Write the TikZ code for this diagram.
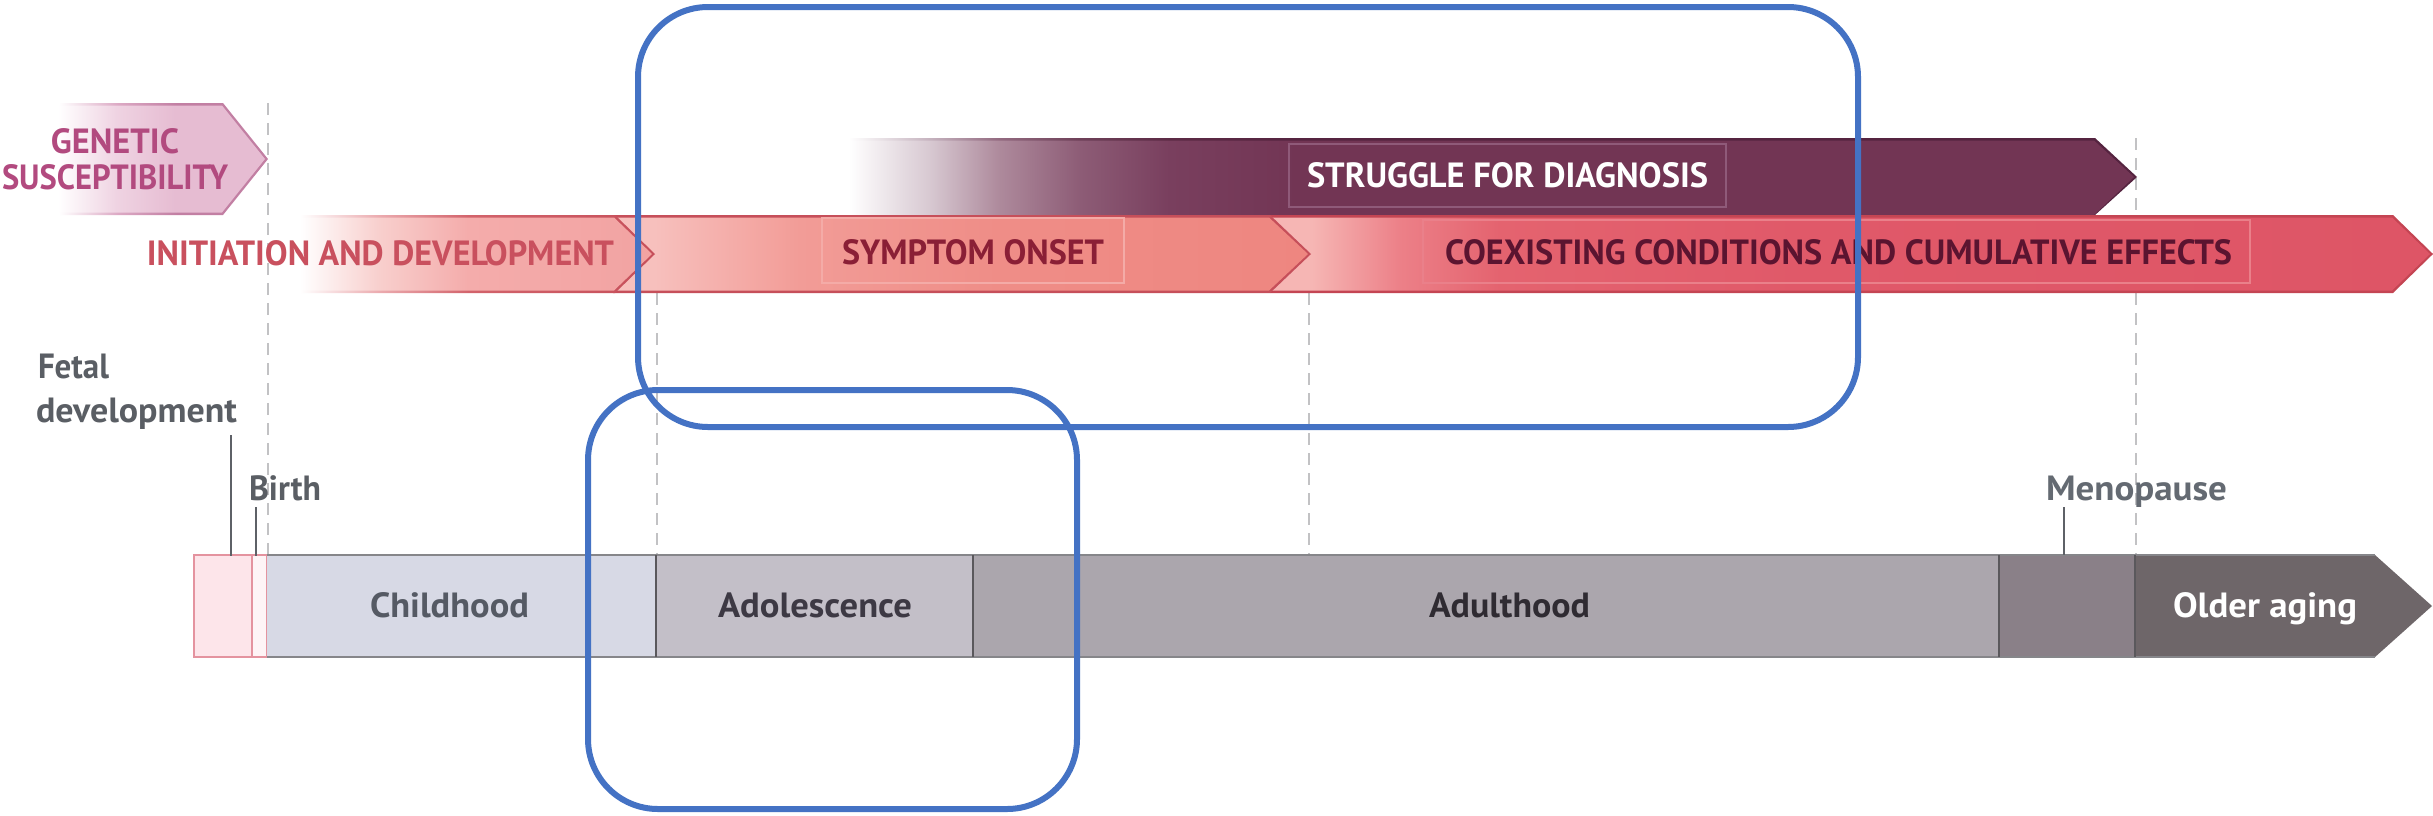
\documentclass[tikz,border=0pt]{standalone}
\usepackage{fontspec}
\setmainfont{PT Sans}
\usepackage{graphicx}

\definecolor{blueline}{HTML}{4472C4}
\definecolor{dashgray}{HTML}{C2C2C4}
\definecolor{tickgray}{HTML}{5E6167}
\definecolor{labelgray}{HTML}{5A5E64}
\definecolor{menogray}{HTML}{646A72}
\definecolor{gentext}{HTML}{B24A7F}
\definecolor{inittext}{HTML}{C9505E}
\definecolor{symptext}{HTML}{8A1F36}
\definecolor{coextext}{HTML}{5B1430}
\definecolor{genM}{HTML}{EFD3E2}
\definecolor{genE}{HTML}{E6BCD2}
\definecolor{genBM}{HTML}{DCA9C4}
\definecolor{genBE}{HTML}{C27FA3}
\definecolor{aM}{HTML}{F8CFCD}
\definecolor{aE}{HTML}{F4ACAB}
\definecolor{aT}{HTML}{F2A3A2}
\definecolor{aBM}{HTML}{EBAAAE}
\definecolor{aBE}{HTML}{D2636B}
\definecolor{segline}{HTML}{C64F5A}
\definecolor{bL}{HTML}{F7C0BD}
\definecolor{bM}{HTML}{F29C97}
\definecolor{bN}{HTML}{EF8D87}
\definecolor{bE}{HTML}{EE8680}
\definecolor{cL}{HTML}{F6B6B4}
\definecolor{cM}{HTML}{EC8088}
\definecolor{cN}{HTML}{E4636F}
\definecolor{cO}{HTML}{E05969}
\definecolor{cE}{HTML}{DE5566}
\definecolor{cline}{HTML}{C44553}
\definecolor{sA}{HTML}{D7C8D1}
\definecolor{sB}{HTML}{AE8A9C}
\definecolor{sC}{HTML}{8D5C76}
\definecolor{sD}{HTML}{793F5E}
\definecolor{sE}{HTML}{723554}
\definecolor{sBA}{HTML}{C5B2BE}
\definecolor{sBB}{HTML}{936A80}
\definecolor{sBC}{HTML}{6E4058}
\definecolor{sBD}{HTML}{5C2A45}
\definecolor{sBE}{HTML}{552440}
\definecolor{sboxline}{HTML}{8F5A79}
\definecolor{sympbox}{HTML}{F4ABA7}
\definecolor{coexbox}{HTML}{EA808A}
\definecolor{fetalfill}{HTML}{FDE5EA}
\definecolor{birthfill}{HTML}{FEF4F6}
\definecolor{fetalline}{HTML}{E4939F}
\definecolor{childfill}{HTML}{D7D9E5}
\definecolor{adolfill}{HTML}{C3BFC8}
\definecolor{adultfill}{HTML}{ABA6AD}
\definecolor{menofill}{HTML}{8A8088}
\definecolor{olderfill}{HTML}{6E6669}
\definecolor{barline}{HTML}{86868A}
\definecolor{sepline}{HTML}{5A585C}
\definecolor{childtext}{HTML}{555A64}
\definecolor{adoltext}{HTML}{3D3944}
\definecolor{adulttext}{HTML}{2F2B32}

\pgfdeclarehorizontalshading{shGenF}{100bp}{color(0bp)=(white); color(36bp)=(white); color(47bp)=(genM); color(58bp)=(genE); color(100bp)=(genE)}
\pgfdeclarehorizontalshading{shGenB}{100bp}{color(0bp)=(white); color(36bp)=(white); color(47bp)=(genBM); color(58bp)=(genBE); color(100bp)=(genBE)}
\pgfdeclarehorizontalshading{shAF}{100bp}{color(0bp)=(white); color(27.7bp)=(white); color(38.3bp)=(aM); color(50.3bp)=(aE); color(75bp)=(aT); color(100bp)=(aT)}
\pgfdeclarehorizontalshading{shAB}{100bp}{color(0bp)=(white); color(27.7bp)=(white); color(38.3bp)=(aBM); color(50.3bp)=(aBE); color(75bp)=(segline); color(100bp)=(segline)}
\pgfdeclarehorizontalshading{shBF}{100bp}{color(0bp)=(bL); color(28bp)=(bL); color(38.4bp)=(bM); color(52.7bp)=(bN); color(75bp)=(bE); color(100bp)=(bE)}
\pgfdeclarehorizontalshading{shCF}{100bp}{color(0bp)=(cL); color(26.8bp)=(cL); color(30.6bp)=(cM); color(34.9bp)=(cN); color(47.8bp)=(cO); color(75bp)=(cE); color(100bp)=(cE)}
\pgfdeclarehorizontalshading{shSF}{100bp}{color(0bp)=(white); color(26.1bp)=(white); color(29.2bp)=(sA); color(31.8bp)=(sB); color(34.9bp)=(sC); color(38.3bp)=(sD); color(43.2bp)=(sE); color(100bp)=(sE)}
\pgfdeclarehorizontalshading{shSB}{100bp}{color(0bp)=(white); color(26.1bp)=(white); color(29.2bp)=(sBA); color(31.8bp)=(sBB); color(34.9bp)=(sBC); color(38.3bp)=(sBD); color(43.2bp)=(sBE); color(100bp)=(sBE)}

\newcommand\fw[2]{\resizebox{#1pt}{\height}{#2}}

\begin{document}
\begin{tikzpicture}[x=1pt,y=-1pt,
  txt/.style={inner sep=0pt, outer sep=0pt, font=\bfseries\fontsize{35}{40}\selectfont},
  dashline/.style={draw=dashgray, line width=2.2pt, dash pattern=on 12pt off 8pt},
  ticktie/.style={draw=tickgray, line width=2.5pt},
  bluebox/.style={draw=blueline, line width=6pt, rounded corners=70pt},
  barborder/.style={draw=barline, line width=2.5pt},
  barsep/.style={draw=sepline, line width=1.5pt},
]
\useasboundingbox[fill=white] (0,0) rectangle (2433,815);

% dashed guide lines
\draw[dashline] (268,103) -- (268,555);
\draw[dashline] (657,293) -- (657,555);
\draw[dashline] (1309,293) -- (1309,555);
\draw[dashline] (2136,138) -- (2136,215);
\draw[dashline] (2136,293) -- (2136,555);

% genetic susceptibility pentagon
\shade[shading=shGenB] (0,103) -- (223,103) -- (268,159) -- (223,215) -- (0,215) -- cycle;
\shade[shading=shGenF] (0,105.5) -- (222,105.5) -- (265,159) -- (222,212.5) -- (0,212.5) -- cycle;

% struggle for diagnosis band
\shade[shading=shSB] (820,138) -- (2095,138) -- (2137,177) -- (2095,215) -- (820,215) -- cycle;
\shade[shading=shSF] (820,140.5) -- (2094,140.5) -- (2134,177) -- (2094,215) -- (820,215) -- cycle;

% red band: segments drawn right to left
\fill[cline] (1270,215) -- (2393,215) -- (2433,254) -- (2393,293) -- (1270,293) -- cycle;
\shade[shading=shCF] (1270,217.5) -- (2392,217.5) -- (2430,254) -- (2392,290.5) -- (1270,290.5) -- cycle;
\fill[segline] (613,215) -- (1270,215) -- (1311,254) -- (1270,293) -- (613,293) -- cycle;
\shade[shading=shBF] (613,217.5) -- (1269,217.5) -- (1308,254) -- (1269,290.5) -- (613,290.5) -- cycle;
\shade[shading=shAB] (280,215) -- (615,215) -- (655,254) -- (615,293) -- (280,293) -- cycle;
\shade[shading=shAF] (280,217.5) -- (614,217.5) -- (652,254) -- (614,290.5) -- (280,290.5) -- cycle;

% label boxes
\draw[sympbox, line width=1.2pt] (822,218) rectangle (1124,283);
\draw[coexbox, line width=1.2pt] (1423,220) rectangle (2250,283);
\draw[sboxline, line width=1.5pt] (1289,144) rectangle (1726,207);

% band texts
\node[txt, text=gentext, anchor=base] (gen1) at (115,153) {\fw{128}{GENETIC}};
\node[txt, text=gentext, anchor=base] (gen2) at (115,189) {\fw{226}{SUSCEPTIBILITY}};
\node[txt, text=inittext, anchor=base] (init) at (380.5,265) {\fw{467}{INITIATION AND DEVELOPMENT}};
\node[txt, text=symptext, anchor=base] (symp) at (973,264) {\fw{262}{SYMPTOM ONSET}};
\node[txt, text=coextext, anchor=base] (coex) at (1838.5,264) {\fw{787}{COEXISTING CONDITIONS AND CUMULATIVE EFFECTS}};
\node[txt, text=white, anchor=base] (strug) at (1507.5,187) {\fw{401}{STRUGGLE FOR DIAGNOSIS}};

% life-stage bar
\path[fill=fetalfill, draw=fetalline, line width=1.5pt] (194,555) rectangle (252,657);
\path[fill=birthfill, draw=fetalline, line width=1.5pt] (252,555) rectangle (267,657);
\fill[childfill] (267,555) rectangle (656,657);
\fill[adolfill] (656,555) rectangle (973,657);
\fill[adultfill] (973,555) rectangle (1999,657);
\fill[menofill] (1999,555) rectangle (2135,657);
\fill[olderfill] (2135,555) -- (2375,555) -- (2432,606) -- (2375,657) -- (2135,657) -- cycle;
\draw[barborder] (267,555) -- (2375,555);
\draw[barborder] (267,657) -- (2375,657);
\draw[barsep] (656,555) -- (656,657);
\draw[barsep] (973,555) -- (973,657);
\draw[barsep] (1999,555) -- (1999,657);
\draw[barsep] (2135,555) -- (2135,657);

\node[txt, text=childtext, anchor=base] (child) at (449.5,617) {\fw{159}{Childhood}};
\node[txt, text=adoltext, anchor=base] (adol) at (815,617) {\fw{194}{Adolescence}};
\node[txt, text=adulttext, anchor=base] (adult) at (1509.5,617) {\fw{161}{Adulthood}};
\node[txt, text=white, anchor=base] (older) at (2265,617) {\fw{184}{Older aging}};

% milestone labels and ticks
\node[txt, text=labelgray, anchor=base west] (fetal1) at (38,378) {\fw{71}{Fetal}};
\node[txt, text=labelgray, anchor=base west] (fetal2) at (36,422) {\fw{201}{development}};
\node[txt, text=labelgray, anchor=base west] (birth) at (249,500) {\fw{72}{Birth}};
\node[txt, text=menogray, anchor=base] (meno) at (2136.5,500) {\fw{181}{Menopause}};

\coordinate (fetalA) at (231,435);
\coordinate (fetalB) at (231,556);
\coordinate (birthA) at (256,507);
\coordinate (birthB) at (256,556);
\coordinate (menoA) at (2064,507);
\coordinate (menoB) at (2064,555);
\draw[ticktie] (fetalA) -- (fetalB);
\draw[ticktie] (birthA) -- (birthB);
\draw[ticktie] (menoA) -- (menoB);

% highlight frames
\draw[bluebox] (638,7) rectangle (1858,427);
\draw[bluebox] (588,390) rectangle (1077,809);
\end{tikzpicture}
\end{document}
